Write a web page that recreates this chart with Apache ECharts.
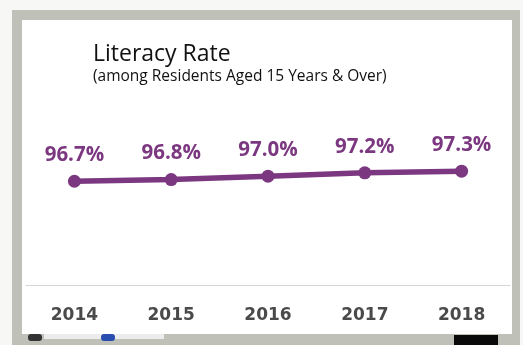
<!DOCTYPE html>
<html>
<head>
<meta charset="utf-8">
<script src="https://cdn.jsdelivr.net/npm/echarts@6/dist/echarts.min.js"></script>
<style>
  html, body { margin: 0; padding: 0; background: #f7f7f5; }
  #chart { width: 523px; height: 345px; }
</style>
</head>
<body>
<div id="chart"></div>
<script>
// literacy rate by year
const years = ["2014", "2015", "2016", "2017", "2018"];
const rates = [96.7, 96.8, 97.0, 97.2, 97.3];

const purple = "#7b3880";

const chart = echarts.init(document.getElementById("chart"));

const option = {
  backgroundColor: "#f7f7f5",
  animation: false,
  title: {
    text: "Literacy Rate",
    subtext: "(among Residents Aged 15 Years & Over)",
    left: 88,
    top: 38,
    itemGap: 3,
    textStyle: {
      fontFamily: "Open Sans",
      fontWeight: "normal",
      fontSize: 23,
      color: "#111"
    },
    subtextStyle: {
      fontFamily: "Open Sans",
      fontSize: 15.5,
      color: "#111"
    }
  },
  // whiteboard frame
  graphic: [
    {
      type: "rect",
      z: -10,
      shape: { x: 12, y: 10, width: 508, height: 340 },
      style: { fill: "#bfc0b8" }
    },
    {
      type: "rect",
      z: -9,
      shape: { x: 22, y: 20, width: 490, height: 314 },
      style: { fill: "#ffffff" }
    },
    {
      type: "rect",
      z: -8,
      shape: { x: 44, y: 334, width: 120, height: 5 },
      style: { fill: "#ececec" }
    },
    {
      type: "rect",
      z: -7,
      shape: { x: 28, y: 334, width: 14, height: 7, r: 3 },
      style: { fill: "#333" }
    },
    {
      type: "rect",
      z: -7,
      shape: { x: 101, y: 334, width: 14, height: 7, r: 3 },
      style: { fill: "#2a4db0" }
    },
    {
      type: "rect",
      z: -7,
      shape: { x: 454, y: 335, width: 44, height: 10 },
      style: { fill: "#0a0a0a" }
    }
  ],
  grid: {
    left: 26,
    right: 13,
    top: 126,
    bottom: 60
  },
  xAxis: {
    type: "category",
    data: years,
    axisLine: { lineStyle: { color: "#d6d6d6", width: 1 } },
    axisTick: { show: false },
    axisLabel: {
      margin: 22,
      fontFamily: "DejaVu Sans",
      fontWeight: "bold",
      fontSize: 17,
      color: "#4a4a4a"
    }
  },
  yAxis: {
    type: "value",
    min: 90.5,
    max: 100,
    show: false,
    splitLine: { show: false }
  },
  series: [
    {
      type: "line",
      data: rates,
      symbol: "circle",
      symbolSize: 13,
      lineStyle: { color: purple, width: 5.5 },
      itemStyle: { color: purple },
      label: {
        show: true,
        position: "top",
        distance: 9,
        formatter: function (p) {
          return p.value.toFixed(1) + "%";
        },
        fontFamily: "Open Sans",
        fontWeight: "bold",
        fontSize: 20.5,
        color: purple
      }
    }
  ]
};

chart.setOption(option);
</script>
</body>
</html>
